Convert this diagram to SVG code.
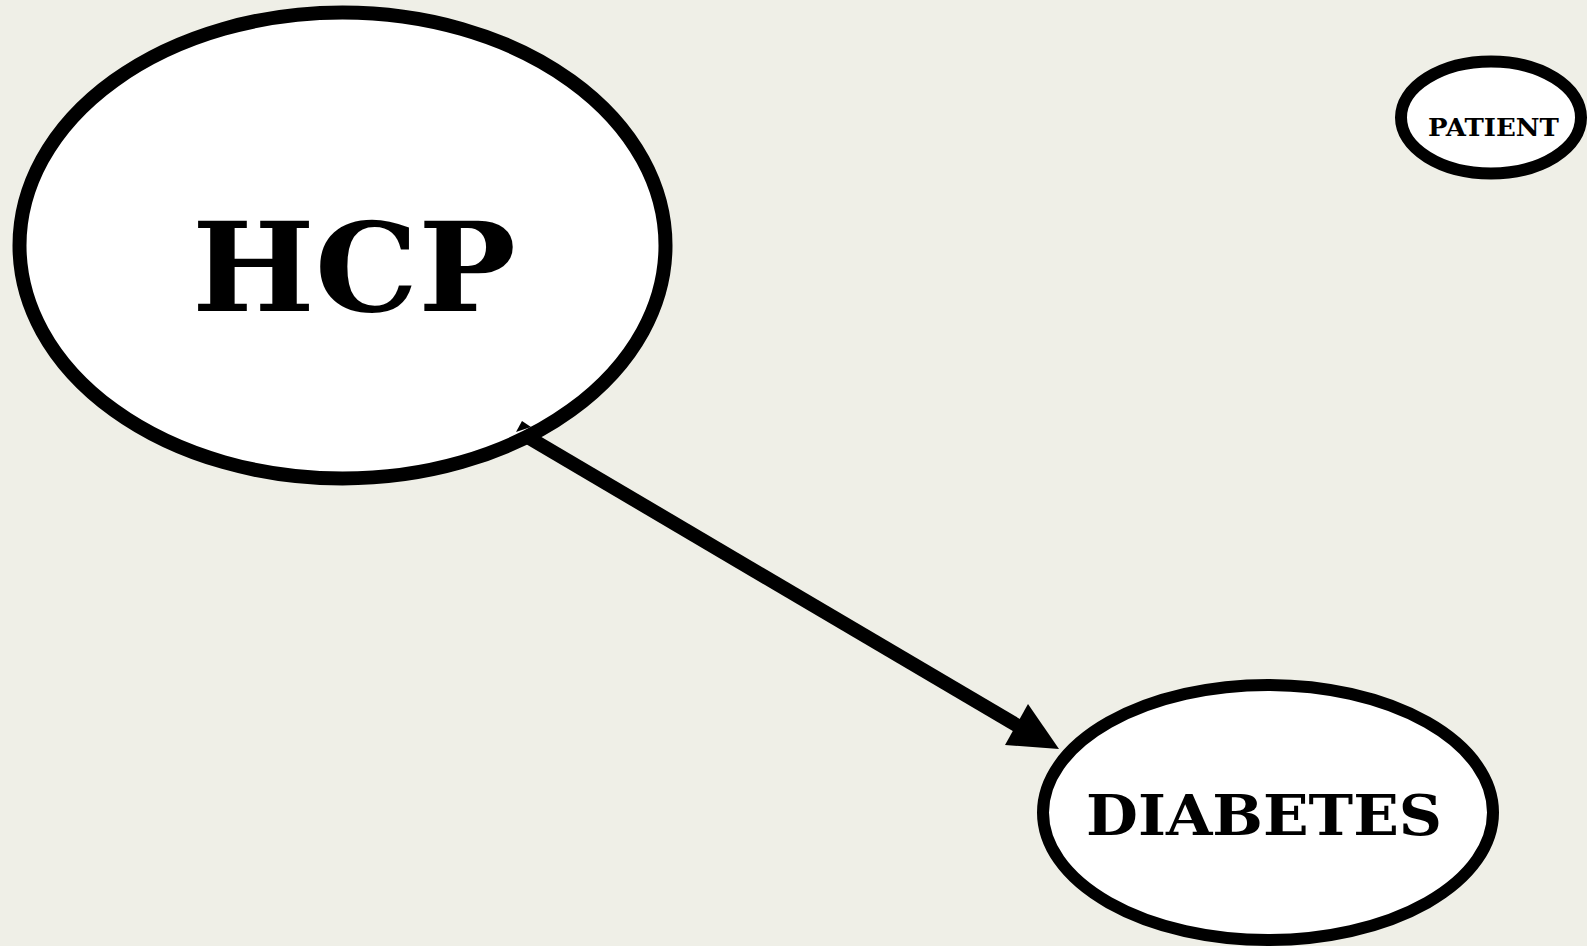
<svg xmlns="http://www.w3.org/2000/svg" width="1587" height="946" viewBox="0 0 1587 946">
<style>
.node{fill:#fff;stroke:#000}
.lbl{font-family:"DejaVu Serif","Liberation Serif",serif;font-weight:bold;fill:#000;text-anchor:middle}
</style>
<rect width="1587" height="946" fill="#efefe7"/>
<g id="hcp">
<ellipse class="node" cx="342.5" cy="245.5" rx="323" ry="233" stroke-width="14"/>
<text class="lbl" x="354" y="311" font-size="124" textLength="324" lengthAdjust="spacingAndGlyphs">HCP</text>
</g>
<g id="patient">
<ellipse class="node" cx="1491" cy="117.5" rx="90" ry="56" stroke-width="12"/>
<text class="lbl" x="1493.5" y="135.5" font-size="24" textLength="131" lengthAdjust="spacingAndGlyphs">PATIENT</text>
</g>
<g id="diabetes">
<ellipse class="node" cx="1268" cy="812.5" rx="225" ry="127.5" stroke-width="12"/>
<text class="lbl" x="1264" y="835" font-size="56" textLength="356" lengthAdjust="spacingAndGlyphs">DIABETES</text>
</g>
<g id="connectors">
<line x1="526" y1="436" x2="1018" y2="726" stroke="#000" stroke-width="14"/>
<polygon points="1059,749 1028,704 1005,745" fill="#000"/>
<polygon points="516,432 522,421 531,427" fill="#000"/>
</g>
</svg>
